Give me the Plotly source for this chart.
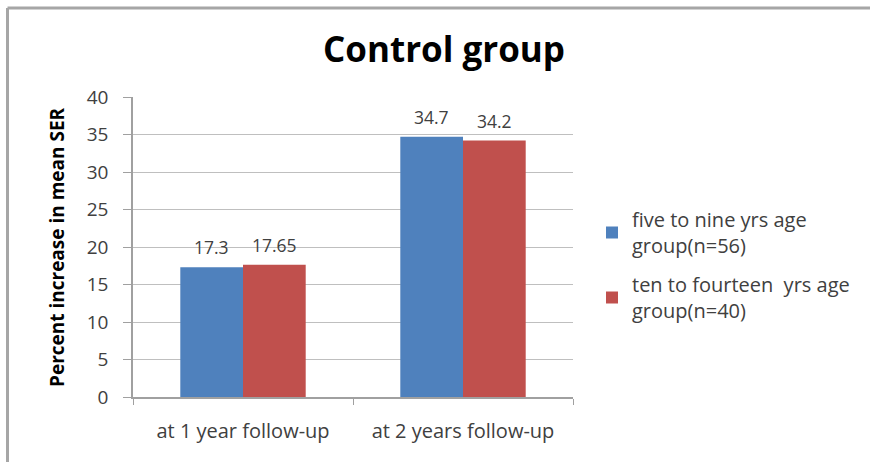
import plotly.graph_objects as go

categories = ["at 1 year follow-up", "at 2 years follow-up"]
series_names = ["five to nine yrs age<br>group(n=56)", "ten to fourteen  yrs age<br>group(n=40)"]
five_to_nine = [17.3, 34.7]
ten_to_fourteen = [17.65, 34.2]
value_labels = [["17.3", "34.7"], ["17.65", "34.2"]]
colors = ["#4F81BD", "#C0504D"]
y_ticks = [0, 5, 10, 15, 20, 25, 30, 35, 40]

FONT = "Open Sans"
TXT = "#404040"

W, H = 870, 462
L, R, T, B = 133, 297, 97, 65

fig = go.Figure()
for k, (name, vals, col) in enumerate(zip(series_names, [five_to_nine, ten_to_fourteen], colors)):
    fig.add_trace(go.Bar(x=categories, y=vals, name=name, marker_color=col,
                         marker_line_width=0, legendgroup=f"g{k}"))

# value labels above each bar
offsets = [-0.1425, 0.1425]
for vals, labs, off in zip([five_to_nine, ten_to_fourteen], value_labels, offsets):
    for i, (v, lab) in enumerate(zip(vals, labs)):
        fig.add_annotation(x=i + off, y=v, text=lab, showarrow=False, yshift=20,
                           xref="x", yref="y",
                           font=dict(family=FONT, size=17.5, color=TXT))

# y-axis title
fig.add_annotation(x=(57 - L) / (W - L - R), y=0.5, xref="paper", yref="paper",
                   xanchor="center", yanchor="middle",
                   text="<b>Percent increase in mean SER</b>", textangle=-90,
                   showarrow=False, font=dict(family=FONT, size=19, color="#000000"))

# outer chart frame (left and top edges)
px = lambda p: (p - L) / (W - L - R)
py = lambda p: (H - B - p) / (H - T - B)
fig.add_shape(type="line", xref="paper", yref="paper", x0=px(7.5), x1=px(7.5),
              y0=py(462), y1=py(8), line=dict(color="#a6a6a6", width=3))
fig.add_shape(type="line", xref="paper", yref="paper", x0=px(7.5), x1=px(875),
              y0=py(8), y1=py(8), line=dict(color="#a6a6a6", width=3))

fig.update_layout(
    width=W, height=H,
    margin=dict(l=L, r=R, t=T, b=B),
    paper_bgcolor="white", plot_bgcolor="white",
    barmode="group", bargap=0.43, bargroupgap=0,
    title=dict(text="<b>Control group</b>", x=444 / W, xref="container", xanchor="center",
               y=1 - 50 / H, yref="container", yanchor="middle",
               font=dict(family=FONT, size=35, color="#000000")),
    legend=dict(x=px(592), y=py(200), xanchor="left", yanchor="top",
                font=dict(family=FONT, size=20, color=TXT), tracegroupgap=10,
                itemwidth=30, bgcolor="rgba(0,0,0,0)"),
    xaxis=dict(showline=True, linecolor="#a0a0a0", linewidth=1.5,
               ticks="outside", tickson="boundaries", ticklen=6, tickcolor="#a0a0a0",
               ticklabelstandoff=15,
               tickfont=dict(family=FONT, size=20, color=TXT), showgrid=False),
    yaxis=dict(range=[0, 40], tickvals=y_ticks, showline=True, linecolor="#a0a0a0",
               linewidth=1.5, ticks="outside", ticklen=8, tickcolor="#a0a0a0",
               ticklabelstandoff=11,
               gridcolor="#bfbfbf", gridwidth=1, zeroline=False,
               tickfont=dict(family=FONT, size=19, color=TXT)),
)

fig.write_html("out.html")
